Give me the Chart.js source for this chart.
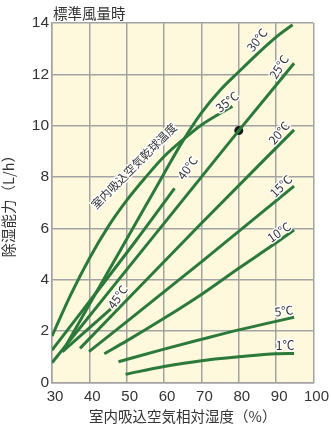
<!DOCTYPE html>
<html>
<head>
<meta charset="utf-8">
<script src="https://cdn.jsdelivr.net/npm/chart.js@4.4.1/dist/chart.umd.min.js"></script>
<style>
  html, body { margin:0; padding:0; background:#fff; }
  #wrap { width:331px; height:429px; }
</style>
</head>
<body>
<div id="wrap"><canvas id="c" width="331" height="429"></canvas></div>
<script>

// x = 室内吸込空気相対湿度 (%), y = 除湿能力 (L/h)
const t1  = [[49.7,0.32],[60,0.62],[70,0.85],[80,1.0],[90,1.12],[94.8,1.13]]
const t5  = [[47.8,0.81],[60,1.3],[70,1.68],[80,2.05],[90,2.38],[94.8,2.54]]
const t10 = [[44,1.12],[50,1.62],[60,2.5],[70,3.43],[80,4.45],[90,5.44],[94.8,5.94]]
const t15 = [[39.9,1.2],[70,4.7],[94.8,7.65]]
const t20 = [[37.5,1.33],[70,6.2],[94.8,9.84]]
const t25 = [[30,0.77],[80,9.81],[94.8,12.43]]
const t30 = [[32.8,1.2],[45,4.31],[55,6.86],[60,8.14],[65,9.4],[70,10.5],[75,11.38],[80,12.1],[85,12.8],[90,13.45],[94.4,13.93]]
const t35 = [[30,1.81],[35,3.41],[40,4.83],[45,6.06],[50,7.09],[55,7.98],[60,8.8],[65,9.45],[70,10.03],[78.3,10.76]]
const t40 = [[30,1.26],[52.6,5.55],[62.8,7.56]]
const t45 = [[32.8,1.2],[46,2.9]]

const ratedPoint = [[80,9.81]]

const xTicks = [30,40,50,60,70,80,90,100]
const yTicks = [0,2,4,6,8,10,12,14]

// text labels on the curves: [text, x, y, angle]
const curveLabels = [
      ['30℃', 84.9, 13.34, -52],
      ['25℃', 90.8, 12.29, -58],
      ['35℃', 76.9, 10.93, -38],
      ['20℃', 90.8, 9.72, -50],
      ['40℃', 66.3, 8.36, -55],
      ['15℃', 91.3, 7.65, -45],
      ['10℃', 90.8, 5.86, -35],
      ['5℃',  92.1, 2.79, -8],
      ['1℃',  92.4, 1.46, 0],
      ['45℃', 47.6, 3.33, -55],
      ['室内吸込空気乾球温度', 51.9, 8.43, -45],
]

const GREEN = '#2b7a3b'
const JP = '"Noto Sans CJK JP", "Noto Sans", sans-serif'
const NUM = '"Liberation Sans", Arial, sans-serif'

const toPts = arr => arr.map(p => ({ x:p[0], y:p[1] }))

const curves = [t1,t5,t10,t15,t20,t25,t30,t35,t40,t45].map(arr => ({
      data: toPts(arr),
      showLine: true,
      borderColor: GREEN,
      borderWidth: 3,
      pointRadius: 0,
      cubicInterpolationMode: 'monotone',
      fill: false,
}))

// plot background + texts
const decor = {
      id: 'decor',
      beforeDraw(chart){
            const { ctx, chartArea:a } = chart
            ctx.save()
            ctx.fillStyle = '#fef9dc'
            ctx.fillRect(a.left, a.top, a.right - a.left, a.bottom - a.top)
            ctx.restore()
      },
      afterDatasetsDraw(chart){
            const { ctx, chartArea:a, scales } = chart
            ctx.save()
            curveLabels.forEach(l => {
                  const px = scales.x.getPixelForValue(l[1])
                  const py = scales.y.getPixelForValue(l[2])
                  ctx.save()
                  ctx.translate(px, py)
                  ctx.rotate(l[3] * Math.PI / 180)
                  ctx.font = (l[0].length > 4 ? '11.5px ' : '12px ') + JP
                  ctx.textAlign = 'center'
                  ctx.textBaseline = 'middle'
                  ctx.lineWidth = 3
                  ctx.strokeStyle = '#fff'
                  ctx.lineJoin = 'round'
                  ctx.strokeText(l[0], 0, 0)
                  ctx.fillStyle = '#333'
                  ctx.fillText(l[0], 0, 0)
                  ctx.restore()
            })
            ctx.font = '14.5px ' + JP
            ctx.fillStyle = '#333'
            ctx.textAlign = 'left'
            ctx.textBaseline = 'bottom'
            ctx.fillText('標準風量時', a.left + 1, a.top - 2)
            ctx.restore()
      }
}

const setup = {
      type: 'scatter',
      data: {
            datasets: [
                  ...curves,
                  {
                        data: toPts(ratedPoint),
                        pointRadius: 4.5,
                        pointBackgroundColor: '#1a1a1a',
                        pointBorderWidth: 0,
                        showLine: false,
                  }
            ]
      },
      options: {
            responsive: false,
            animation: false,
            layout: { padding: { top: 23, right: 16, left: 0, bottom: 0 } },
            plugins: {
                  legend: { display: false },
                  tooltip: { enabled: false },
            },
            scales: {
                  x: {
                        type: 'linear', min: 30, max: 100,
                        afterBuildTicks: s => { s.ticks = xTicks.map(v => ({ value: v })) },
                        afterFit: s => { s.height = 46.5 },
                        grid: { color: '#a3a3a3', lineWidth: 1.5, drawTicks: false },
                        border: { color: '#a3a3a3', width: 1.5 },
                        ticks: { color: '#333', font: { family: NUM, size: 15 }, padding: 5, labelOffset: 3 },
                        title: { display: true, text: '室内吸込空気相対湿度（%）', color: '#333',
                                 font: { family: JP, size: 14.5 }, padding: { top: 1 } },
                  },
                  y: {
                        type: 'linear', min: 0, max: 14,
                        afterBuildTicks: s => { s.ticks = yTicks.map(v => ({ value: v })) },
                        afterFit: s => { s.width = 52 },
                        grid: { color: '#a3a3a3', lineWidth: 1.5, drawTicks: false },
                        border: { color: '#a3a3a3', width: 1.5 },
                        ticks: { color: '#333', font: { family: NUM, size: 15.5 }, padding: 3 },
                        title: { display: true, text: '除湿能力（L/h）', color: '#333',
                                 font: { family: JP, size: 14.5 }, padding: 0 },
                  }
            }
      },
      plugins: [decor]
}

new Chart(document.getElementById('c'), setup)
</script>
</body>
</html>
